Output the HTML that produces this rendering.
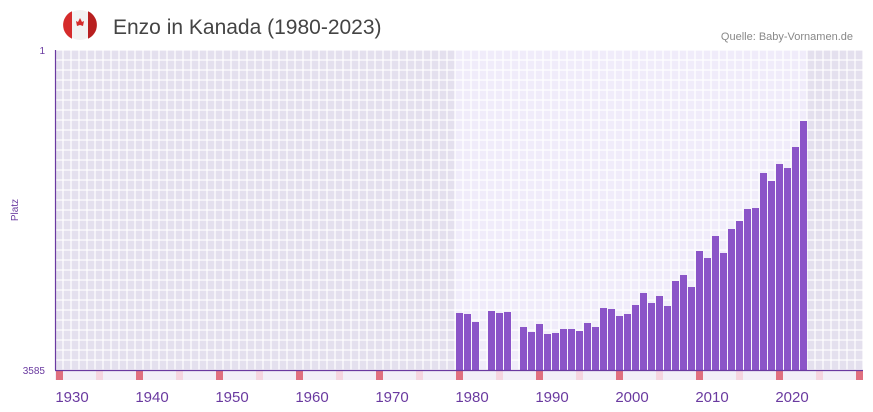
<!DOCTYPE html>
<html><head><style>
body{margin:0;width:873px;height:412px;background:#fff;font-family:"Liberation Sans",sans-serif;position:relative;overflow:hidden}
.abs{position:absolute}
</style></head><body>
<svg class="abs" style="left:0;top:0" width="873" height="412">
<defs>
<pattern id="g" x="55" y="50" width="8" height="10" patternUnits="userSpaceOnUse">
<rect width="8" height="10" fill="none" stroke="#fff" stroke-width="1.2"/>
</pattern>
</defs>
<rect x="55" y="50" width="808" height="320" fill="#e4e0ee"/>
<rect x="455" y="50" width="352" height="320" fill="#f0ecfa"/>
<rect x="55" y="50" width="808" height="320" fill="url(#g)"/>
<rect x="55" y="371" width="808" height="9" fill="#f2eff8"/>
<g id="strip"></g>
<g id="bars" fill="#8b55c8"></g>
<line x1="55" y1="370.5" x2="863" y2="370.5" stroke="#6a3aa0" stroke-width="1.2"/>
<line x1="55.5" y1="50" x2="55.5" y2="370" stroke="#6a3aa0" stroke-width="1.2"/>
<circle cx="80" cy="25" r="15" fill="#f2f2f2"/>
<path d="M72,11.3 A15,15 0 0 0 72,38.7 Z" fill="#d52b2b"/>
<path d="M88,11.3 A15,15 0 0 1 88,38.7 Z" fill="#b82020"/>
<path d="M80,18 l2,4 2,-1 -1,5 -3,-1 -3,1 -1,-5 2,1z" fill="#d52b2b"/>
<text x="113" y="34" font-family="Liberation Sans,sans-serif" font-size="21" fill="#444">Enzo in Kanada (1980-2023)</text>
<text x="853" y="40" text-anchor="end" font-size="11" fill="#888">Quelle: Baby-Vornamen.de</text>
<text x="45" y="54" text-anchor="end" font-size="10" fill="#6a3aa0">1</text>
<text x="45" y="374" text-anchor="end" font-size="10" fill="#6a3aa0">3585</text>
<text x="18" y="210" text-anchor="middle" font-size="10" fill="#6a3aa0" transform="rotate(-90 18 210)">Platz</text>
<g font-size="15" fill="#6a3aa0" text-anchor="middle">
<text x="72" y="402">1930</text><text x="152" y="402">1940</text><text x="232" y="402">1950</text><text x="312" y="402">1960</text><text x="392" y="402">1970</text><text x="472" y="402">1980</text><text x="552" y="402">1990</text><text x="632" y="402">2000</text><text x="712" y="402">2010</text><text x="792" y="402">2020</text>
</g>
</svg>
<script>
var tops={1978:313,1979:314,1980:322,1982:311,1983:313,1984:312,1986:327,1987:332,1988:324,1989:334,1990:333,1991:329,1992:329,1993:331,1994:323,1995:327,1996:308,1997:309,1998:316,1999:314,2000:305,2001:293,2002:303,2003:296,2004:306,2005:281,2006:275,2007:287,2008:251,2009:258,2010:236,2011:253,2012:229,2013:221,2014:209,2015:208,2016:173,2017:181,2018:164,2019:168,2020:147,2021:121};
var b=document.getElementById('bars'),s=document.getElementById('strip'),h='';
for(var y in tops){var x=55+(y-1928)*8+1;h+='<rect x="'+x+'" y="'+tops[y]+'" width="7" height="'+(370-tops[y])+'"/>';}
b.innerHTML=h;h='';
for(var k=0;k<101;k++){var x=55+k*8+1,c=null;if(k%10==0)c='#e07080';else if(k%10==5)c='#f5d5e0';if(c)h+='<rect x="'+x+'" y="371" width="7" height="9" fill="'+c+'"/>';}
s.innerHTML=h;
</script>
</body></html>
